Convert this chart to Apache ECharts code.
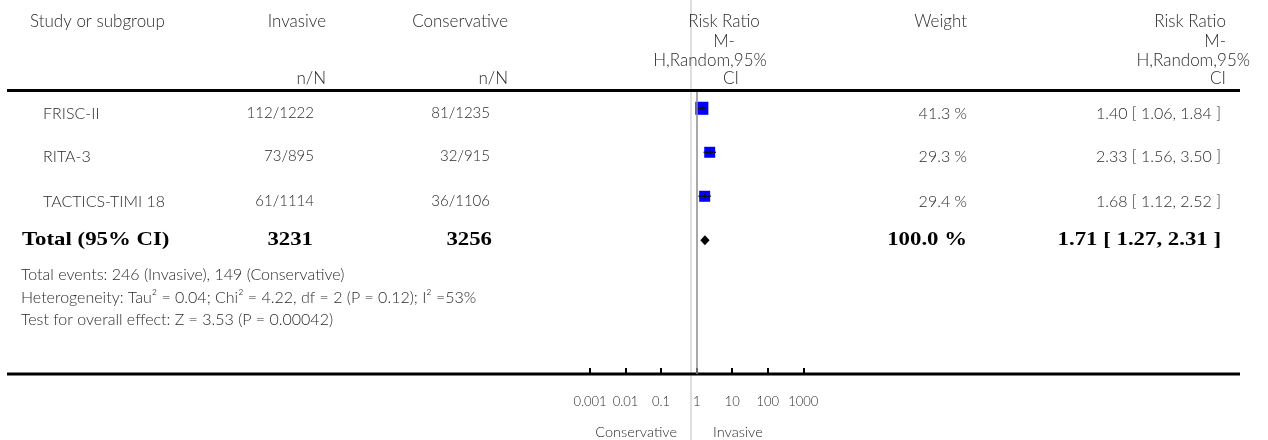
<!DOCTYPE html>
<html>
<head>
<meta charset="utf-8">
<script src="https://cdn.jsdelivr.net/npm/echarts@6/dist/echarts.min.js"></script>
<style>
  html, body { margin: 0; padding: 0; background: #fff; }
  #chart { width: 1268px; height: 440px; }
</style>
</head>
<body>
<div id="chart"></div>
<script>
// Trials of invasive vs conservative strategy: events n/N, weights and risk ratios
const studies = ['FRISC-II', 'RITA-3', 'TACTICS-TIMI 18'];
const invasiveEvents = ['112/1222', '73/895', '61/1114'];
const conservativeEvents = ['81/1235', '32/915', '36/1106'];
const weights = [41.3, 29.3, 29.4];
const riskRatio = [1.40, 2.33, 1.68];
const ciLower = [1.06, 1.56, 1.12];
const ciUpper = [1.84, 3.50, 2.52];

// Pooled (random effects) result
const totalInvasive = 3231;
const totalConservative = 3256;
const totalWeight = 100.0;
const totalRR = 1.71;
const totalLower = 1.27;
const totalUpper = 2.31;

const footerLines = [
  'Total events: 246 (Invasive), 149 (Conservative)',
  'Heterogeneity: Tau\u00B2 = 0.04; Chi\u00B2 = 4.22, df = 2 (P = 0.12); I\u00B2 =53%',
  'Test for overall effect: Z = 3.53 (P = 0.00042)'
];

const tickValues = [0.001, 0.01, 0.1, 1, 10, 100, 1000];
const tickLabels = ['0.001', '0.01', '0.1', '1', '10', '100', '1000'];

const SANS = 'Lato, "Open Sans", sans-serif';
const SERIF = '"Liberation Serif", "DejaVu Serif", serif';
const TXT = '#2b2b2b';

const chart = echarts.init(document.getElementById('chart'), null, { renderer: 'canvas' });

// text anchored at (x, y); optional horizontal stretch around the anchor
function txt(text, x, y, align, opts) {
  opts = opts || {};
  return {
    type: 'text',
    z: 10,
    silent: true,
    x: x,
    y: y,
    scaleX: opts.stretch || 1,
    style: {
      text: text,
      x: 0,
      y: 0,
      align: align,
      verticalAlign: 'middle',
      fill: opts.fill || TXT,
      fontFamily: opts.family || SANS,
      fontSize: opts.size || 16,
      fontWeight: opts.weight || 300
    }
  };
}

const fmt2 = v => v.toFixed(2);
const rrText = (e, l, u) => fmt2(e) + ' [ ' + fmt2(l) + ', ' + fmt2(u) + ' ]';

const rowTextY = [113.5, 156.5, 201.5];
const totalY = 240.5;
const head = { size: 17 };
const nums = { size: 15 };

const graphics = [
  // light column divider
  { type: 'line', z: 0, silent: true, shape: { x1: 691, y1: 0, x2: 691, y2: 440 },
    style: { stroke: '#dedede', lineWidth: 2 } },
  // header rule and axis rule
  { type: 'line', z: 5, silent: true, shape: { x1: 7, y1: 90.5, x2: 1240, y2: 90.5 },
    style: { stroke: '#000', lineWidth: 3 } },
  { type: 'line', z: 5, silent: true, shape: { x1: 7, y1: 374, x2: 1240, y2: 374 },
    style: { stroke: '#000', lineWidth: 3 } },

  // column headers
  txt('Study or subgroup', 30, 22, 'left', head),
  txt('Invasive', 326, 22, 'right', head),
  txt('n/N', 326, 79, 'right', head),
  txt('Conservative', 508, 22, 'right', head),
  txt('n/N', 508, 79, 'right', head),
  txt('Risk Ratio', 724, 22, 'center', head),
  txt('M-', 724, 42, 'center', head),
  txt('H,Random,95%', 710, 61, 'center', head),
  txt('CI', 731, 79, 'center', head),
  txt('Weight', 967, 22, 'right', head),
  txt('Risk Ratio', 1226, 22, 'right', head),
  txt('M-', 1226, 42, 'right', head),
  txt('H,Random,95%', 1250, 61, 'right', head),
  txt('CI', 1226, 79, 'right', head)
];

studies.forEach((s, i) => {
  const y = rowTextY[i];
  graphics.push(txt(s, 43, y, 'left'));
  graphics.push(txt(invasiveEvents[i], 314, y, 'right', nums));
  graphics.push(txt(conservativeEvents[i], 490, y, 'right', nums));
  graphics.push(txt(weights[i].toFixed(1) + ' %', 967, y, 'right'));
  graphics.push(txt(rrText(riskRatio[i], ciLower[i], ciUpper[i]), 1221, y, 'right'));
});

const boldOpts = { family: SERIF, weight: 'bold', size: 19, fill: '#000', stretch: 1.2 };
graphics.push(txt('Total (95% CI)', 22, totalY, 'left', boldOpts));
graphics.push(txt(String(totalInvasive), 313, totalY, 'right', boldOpts));
graphics.push(txt(String(totalConservative), 492, totalY, 'right', boldOpts));
graphics.push(txt(totalWeight.toFixed(1) + ' %', 967, totalY, 'right', boldOpts));
graphics.push(txt(rrText(totalRR, totalLower, totalUpper), 1221, totalY, 'right', boldOpts));

[275, 297.5, 320].forEach((y, i) => graphics.push(txt(footerLines[i], 21, y, 'left')));

graphics.push(txt('Conservative', 677, 432, 'right', { size: 14.5 }));
graphics.push(txt('Invasive', 713, 432, 'left', { size: 14.5 }));

const option = {
  animation: false,
  backgroundColor: '#fff',
  grid: { left: 590, right: 464.7, top: 92, bottom: 66, containLabel: false },
  xAxis: {
    type: 'log',
    logBase: 10,
    min: 0.001,
    max: 1000,
    splitNumber: 6,
    axisLine: { show: false, onZero: false },
    axisTick: { show: true, inside: true, length: 6, lineStyle: { color: '#000', width: 2 } },
    splitLine: { show: false },
    axisLabel: {
      show: true,
      margin: 21,
      fontFamily: SANS,
      fontWeight: 300,
      fontSize: 13,
      color: TXT,
      formatter: v => {
        const idx = tickValues.findIndex(t => Math.abs(Math.log10(t) - Math.log10(v)) < 1e-6);
        return idx >= 0 ? tickLabels[idx] : '';
      }
    }
  },
  yAxis: {
    type: 'value',
    inverse: true,
    min: -0.37,
    max: 6.04,
    show: false
  },
  graphic: graphics,
  series: [
    {
      type: 'custom',
      z: 3,
      silent: true,
      data: studies.map((s, i) => [i, riskRatio[i], ciLower[i], ciUpper[i], weights[i]]),
      encode: { x: [1, 2, 3], y: 0 },
      renderItem: function (params, api) {
        const row = api.value(0);
        const est = api.coord([api.value(1), row]);
        const lo = api.coord([api.value(2), row]);
        const hi = api.coord([api.value(3), row]);
        // square area proportional to study weight
        const size = 2.03 * Math.sqrt(api.value(4));
        return {
          type: 'group',
          children: [
            { type: 'rect', shape: { x: est[0] - size / 2, y: est[1] - size / 2, width: size, height: size },
              style: { fill: '#0000ff' } },
            { type: 'line', shape: { x1: lo[0], y1: est[1], x2: hi[0], y2: est[1] },
              style: { stroke: '#111', lineWidth: 1.3 } },
            { type: 'line', shape: { x1: est[0], y1: est[1] - 2, x2: est[0], y2: est[1] + 2 },
              style: { stroke: '#111', lineWidth: 1.3 } }
          ]
        };
      },
      markLine: {
        silent: true,
        symbol: 'none',
        label: { show: false },
        lineStyle: { color: '#8c8c8c', width: 1.5, type: 'solid' },
        data: [{ xAxis: 1 }]
      }
    },
    {
      type: 'custom',
      z: 3,
      silent: true,
      data: [[3, totalRR, totalLower, totalUpper]],
      encode: { x: [1, 2, 3], y: 0 },
      renderItem: function (params, api) {
        const row = api.value(0);
        const est = api.coord([api.value(1), row]);
        const lo = api.coord([api.value(2), row]);
        const hi = api.coord([api.value(3), row]);
        return {
          type: 'polygon',
          shape: { points: [[lo[0], est[1]], [est[0], est[1] - 5], [hi[0], est[1]], [est[0], est[1] + 5]] },
          style: { fill: '#000' }
        };
      }
    }
  ]
};

chart.setOption(option);
</script>
</body>
</html>
